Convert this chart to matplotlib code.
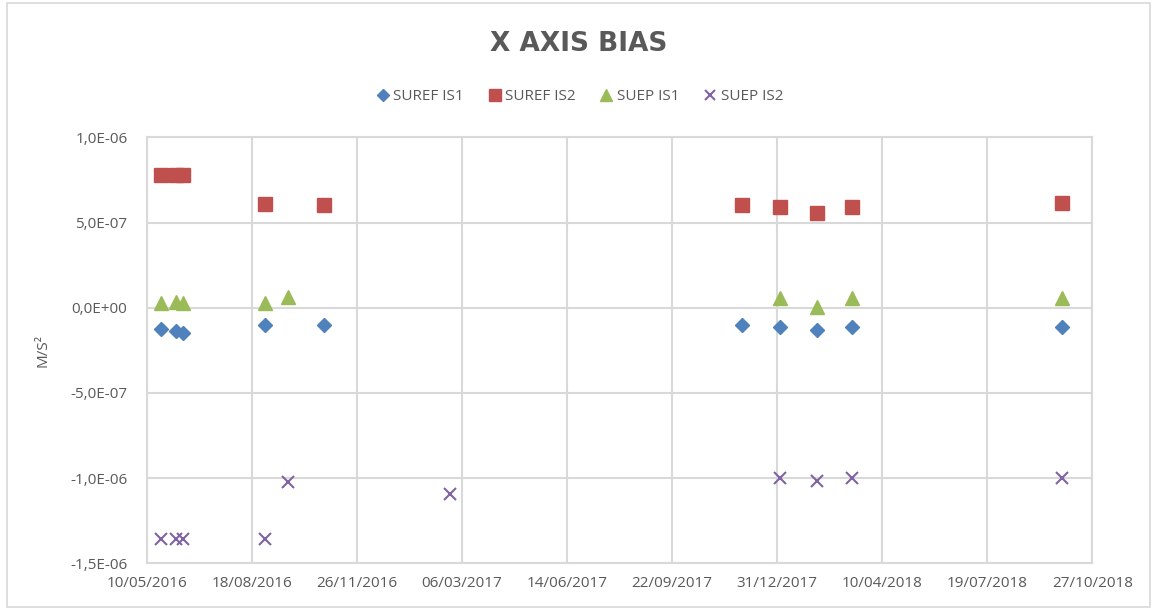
import matplotlib
matplotlib.use("Agg")
import matplotlib.pyplot as plt
import matplotlib.dates as mdates
import numpy as np
import pandas as pd
from matplotlib.patches import Rectangle

# measurement dates (dd/mm/yyyy) and X-axis bias values [m/s^2]
suref_is1_dates = ["23/05/2016", "07/06/2016", "13/06/2016", "30/08/2016", "26/10/2016",
                   "28/11/2017", "03/01/2018", "07/02/2018", "12/03/2018", "28/09/2018"]
suref_is1 = [-1.27e-7, -1.35e-7, -1.47e-7, -1.04e-7, -1.04e-7,
             -1.04e-7, -1.16e-7, -1.29e-7, -1.16e-7, -1.16e-7]

suref_is2_dates = suref_is1_dates
suref_is2 = [7.76e-7, 7.8e-7, 7.76e-7, 6.06e-7, 6.0e-7,
             6.0e-7, 5.93e-7, 5.57e-7, 5.93e-7, 6.12e-7]

suep_is1_dates = ["23/05/2016", "07/06/2016", "13/06/2016", "30/08/2016", "21/09/2016",
                  "03/01/2018", "07/02/2018", "12/03/2018", "28/09/2018"]
suep_is1 = [3.0e-8, 3.2e-8, 3.0e-8, 3.0e-8, 6.5e-8,
            5.9e-8, 4.0e-9, 5.9e-8, 5.9e-8]

suep_is2_dates = ["23/05/2016", "07/06/2016", "13/06/2016", "30/08/2016", "21/09/2016",
                  "23/02/2017", "03/01/2018", "07/02/2018", "12/03/2018", "28/09/2018"]
suep_is2 = [-1.36e-6, -1.36e-6, -1.36e-6, -1.36e-6, -1.023e-6,
            -1.096e-6, -1.002e-6, -1.017e-6, -0.998e-6, -1.002e-6]

x_start = "10/05/2016"
x_end = "27/10/2018"
y_ticks = [-1.5e-6, -1.0e-6, -5e-7, 0.0, 5e-7, 1.0e-6]

def to_dt(lst):
    return pd.to_datetime(lst, format="%d/%m/%Y")

GREY = "#595959"
GRID = "#d9d9d9"

plt.rcParams["font.family"] = ["Open Sans", "DejaVu Sans"]

fig = plt.figure(figsize=(11.57, 6.13), dpi=100)
fig.patches.append(Rectangle((0.006, 0.01), 0.988, 0.985, transform=fig.transFigure,
                             fill=False, edgecolor=GRID, linewidth=1.2))
ax = fig.add_axes([0.127, 0.081, 0.817, 0.695])

ax.plot(to_dt(suref_is1_dates), suref_is1, linestyle="none", marker="D", ms=7.5,
        color="#4f81bd", label="SUREF IS1")
ax.plot(to_dt(suref_is2_dates), suref_is2, linestyle="none", marker="s", ms=10.5,
        color="#c0504d", label="SUREF IS2")
ax.plot(to_dt(suep_is1_dates), suep_is1, linestyle="none", marker="^", ms=10,
        color="#9bbb59", label="SUEP IS1")
ax.plot(to_dt(suep_is2_dates), suep_is2, linestyle="none", marker="x", ms=9, mew=1.5,
        color="#8064a2", label="SUEP IS2")

t0, t1 = to_dt([x_start, x_end])
ax.set_xlim(t0, t1)
ax.set_xticks(pd.date_range(t0, t1, freq="100D"))
ax.xaxis.set_major_formatter(mdates.DateFormatter("%d/%m/%Y"))
ax.set_ylim(y_ticks[0], y_ticks[-1])
ax.set_yticks(y_ticks)
ax.set_yticklabels([f"{v:.1E}".replace(".", ",") for v in y_ticks])

ax.grid(True, color=GRID, linewidth=1.5)
ax.set_axisbelow(True)
for s in ax.spines.values():
    s.set_color(GRID)
    s.set_linewidth(1.5)
ax.tick_params(length=0, labelsize=11, colors=GREY)
ax.tick_params(axis="y", pad=14)
ax.tick_params(axis="x", pad=9)

ax.set_ylabel("M/S²", fontsize=11, color=GREY, labelpad=14)

fig.text(0.5, 0.928, "X AXIS BIAS", ha="center", va="center", fontsize=19,
         fontweight="bold", color=GREY, family=["DejaVu Sans"])

fig.legend(loc="center", bbox_to_anchor=(0.5, 0.842), ncol=4, frameon=False,
           fontsize=11, labelcolor=GREY, handletextpad=0.1, columnspacing=1.4,
           handlelength=1.2, markerscale=0.85)

fig.savefig("out.png", dpi=100)
